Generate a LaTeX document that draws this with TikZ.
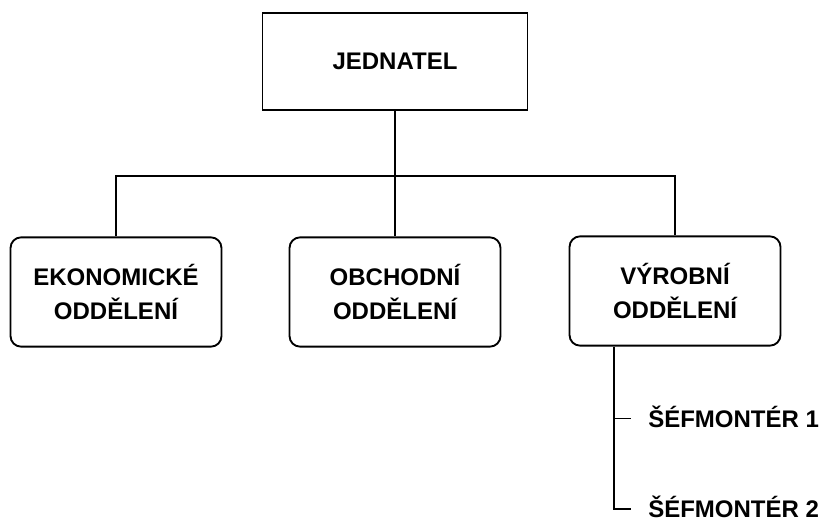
\documentclass[tikz,border=0pt]{standalone}
\usepackage{fontspec}
\setmainfont{Liberation Sans}
\usetikzlibrary{positioning}

\begin{document}
\begin{tikzpicture}[
    x=0.75pt, y=-0.75pt,
    lbl/.style={font=\bfseries\fontsize{18}{25}\selectfont, align=center},
    boss/.style={draw, line width=1.4pt, minimum width=198.75pt,
                 minimum height=72.75pt, lbl},
    dept/.style={draw, line width=1.4pt, rounded corners=8pt,
                 minimum width=158.25pt, minimum height=82pt, lbl},
    sub/.style={lbl, anchor=west, inner sep=0pt, text height=12.9pt,
                text depth=0pt},
    conn/.style={line width=1.4pt},
  ]
  \useasboundingbox (0,0) rectangle (831,522);

  % Top
  \node[boss] (jed) at (395,61.5) {JEDNATEL};

  % Departments
  \node[dept] (eko)  at (116,292) {EKONOMICKÉ\\ODDĚLENÍ};
  \node[dept] (obch) at (395,292) {OBCHODNÍ\\ODDĚLENÍ};
  \node[dept] (vyr)  at (675,291) {VÝROBNÍ\\ODDĚLENÍ};

  % Sub-positions
  \node[sub] (sef1) at (648,418.5) {ŠÉFMONTÉR 1};
  \node[sub] (sef2) at (648,509) {ŠÉFMONTÉR 2};

  \coordinate (bus) at (395,176);
  \coordinate (trunk) at ([xshift=-46pt]vyr.south);

  \draw[conn] (jed.south) -- (obch.north);
  \draw[conn] (eko.north) |- (bus) -| (vyr.north);
  \draw[conn] (trunk) |- ([xshift=-12.5pt]sef2.west);
  \draw[conn] (trunk |- sef1.west) -- ([xshift=-12.5pt]sef1.west);

\end{tikzpicture}
\end{document}
